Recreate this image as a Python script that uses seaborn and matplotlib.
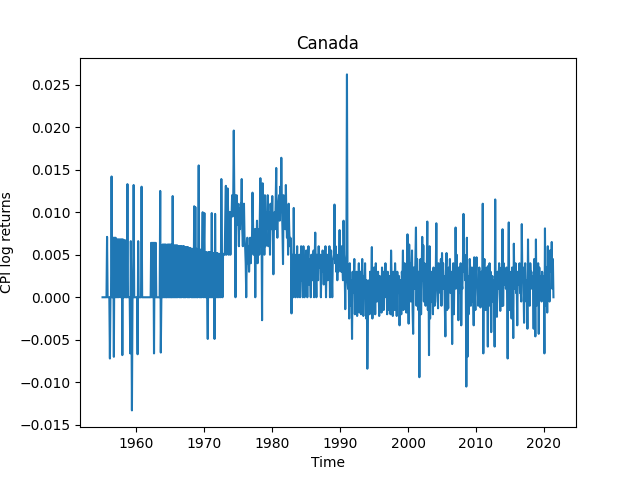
import numpy as np
import pandas as pd
import seaborn as sns
import matplotlib

matplotlib.use("Agg")
import matplotlib.pyplot as plt

# monthly CPI log returns, Canada, in units of 1e-4
# one row per year, Jan..Dec
ret_1950s = [
    0, 0, 0, 0, 0, 0, 0, 0, 71, 0, 0, 0,                      # 1955
    0, -72, 0, 0, 142, 0, 0, 70, -70, 70, 0, 70,              # 1956
    0, 68, 0, 68, 0, 68, 68, 0, 68, 0, 68, -68,               # 1957
    68, 0, 67, 0, 67, 0, 0, 0, 133, 0, 0, 0,                  # 1958
    0, -66, 66, 0, -133, 0, 0, 132, 0, 0, 0, 0,               # 1959
]
ret_1960s = [
    0, 0, -67, 66, 0, 0, 0, 0, 0, 130, 0, 0,                  # 1960
    0, 0, 0, 0, 0, 0, 0, 0, 0, 0, 0, 0,                       # 1961
    0, 0, 64, 0, 64, 0, 64, -66, 64, 0, 64, 0,                # 1962
    0, 0, 0, 0, 0, 0, 125, -65, 0, 0, 62, 0,                  # 1963
    62, 0, 62, 0, 62, 0, 0, 62, 0, 62, 0, 62,                 # 1964
    0, 62, 0, 0, 119, 0, 61, 0, 61, 0, 61, 0,                 # 1965
    61, 0, 60, 60, 0, 60, 0, 60, 0, 60, 60, 0,                # 1966
    60, 0, 59, 0, 59, 59, 0, 59, 0, 58, 0, 58,                # 1967
    57, 0, 57, 0, 57, 0, 107, 0, 106, 0, 57, 0,               # 1968
    0, 56, 155, 0, 56, 0, 56, 0, 56, 100, 0, 56,              # 1969
]
ret_1970s = [
    99, 0, 53, 0, 53, 0, -49, 53, 0, 53, 0, 53,               # 1970
    0, 99, 0, 52, 0, 52, -49, 98, 0, 52, 0, 52,               # 1971
    0, 51, 0, 51, 51, 0, 139, 51, 0, 51, 51, 50,              # 1972
    50, 100, 131, 50, 100, 128, 100, 50, 100, 100, 50, 100,   # 1973
    95, 120, 95, 115, 196, 110, 120, 0, 105, 120, 85, 110,    # 1974
    90, 60, 105, 80, 110, 100, 139, 80, 60, 90, 110, 70,      # 1975
    60, 40, 0, 50, 70, 40, 60, 30, 50, 70, 40, 60,            # 1976
    60, 123, 90, 50, 70, 80, 0, 80, 60, 90, 40, 70,           # 1977
    80, 50, 90, 140, 60, 90, -27, 134, 60, 90, 50, 120,       # 1978
    60, 100, 80, 90, 120, 60, 70, 100, 50, 110, 80, 90,       # 1979
]
ret_1980s = [
    119, 80, 27, 90, 100, 80, 110, 152, 90, 70, 100, 110,     # 1980
    120, 90, 130, 100, 164, 110, 80, 39, 120, 90, 100, 80,    # 1981
    132, 90, 70, 100, 50, 110, 80, 60, 70, 68, -19, 50,       # 1982
    40, 0, 105, 20, 50, 0, 40, 30, 60, 0, 45, 30,             # 1983
    50, 0, 30, 60, 20, 45, 0, 60, 35, 0, 40, 25,              # 1984
    55, 30, 0, 40, 60, 15, 45, 30, 0, 50, 35, 20,             # 1985
    40, 55, 0, 45, 76, 30, 0, 50, 40, 20, 60, 35,             # 1986
    45, 50, 0, 40, 30, 55, 45, 15, 40, 35, 60, 0,             # 1987
    40, 50, 20, 45, 35, 60, 0, 40, 55, 30, 0, 45,             # 1988
    45, 50, 109, 40, 60, 30, 50, 20, 45, 30, 55, 79,          # 1989
]
ret_1990s = [
    50, 40, 30, 60, 35, 20, 90, 45, 30, -14, 40, 50,          # 1990
    262, 20, 10, 30, -25, 40, 10, -10, 20, -49, 30, 5,        # 1991
    15, 45, -20, 20, 10, 30, -22, 25, 5, 40, -18, 15,         # 1992
    30, -20, 20, 45, 5, -22, 25, 10, 40, 0, -25, 20,          # 1993
    -84, -23, 10, 20, -20, 30, 5, 15, 59, -25, 10, 20,        # 1994
    35, 25, -20, 40, 15, -5, 20, 30, 10, -22, 25, 5,          # 1995
    20, -18, 35, 15, 30, -15, 25, 10, 40, 0, 20, -20,         # 1996
    30, 15, -15, 25, 10, -20, 55, 20, 5, -22, 30, 15,         # 1997
    -15, 40, 20, 10, -22, 30, 15, 5, 25, -33, 20, 10,         # 1998
    -20, 30, 15, 55, -15, 20, 40, 10, 30, -18, 20, 74,        # 1999
]
ret_2000s = [
    25, -31, 62, 10, 40, -5, 30, 55, -15, -43, 35, 20,        # 2000
    10, 50, 82, -10, 45, 20, -15, 30, -94, 20, 45, -20,       # 2001
    30, 71, 20, 61, -5, 40, 15, -10, 35, 25, 89, -15,         # 2002
    40, -68, 60, -25, 20, 30, -5, 15, -20, 35, 10, -10,       # 2003
    -5, 30, 87, 20, 10, -13, 40, 15, 30, 5, 45, -10,          # 2004
    52, 20, 40, 10, 25, -10, -46, 30, 52, -15, 10, -13,       # 2005
    35, 15, 45, 5, 30, 20, -55, 25, 40, -20, 30, 10,          # 2006
    82, 30, 50, 10, 25, -27, 35, 5, 20, 40, -33, 15,          # 2007
    10, 40, 98, 30, 50, 20, 35, -105, 70, -70, 25, -20,       # 2008
    15, 45, 30, -10, 20, 35, -5, 10, -33, 47, 5, -15,         # 2009
]
ret_2010s = [
    30, 47, 15, 20, -10, 5, 35, 10, -12, 25, 30, -5,          # 2010
    110, -66, 30, 45, 10, -15, 20, 35, 5, -58, 37, -10,       # 2011
    40, 20, 30, -41, 15, 25, -5, 10, 20, -58, 115, -10,       # 2012
    25, -23, 30, 10, 20, 40, 5, -16, 15, 35, -10, 80,         # 2013
    -10, 40, 25, 15, 30, 10, 35, 5, -72, 20, 88, -15,         # 2014
    30, 10, 20, -25, 35, 15, -48, 63, 10, 25, 40, 5,          # 2015
    20, -33, 30, 15, 25, 40, 5, 10, -5, 86, 20, 35,           # 2016
    15, -30, 25, 40, 10, -5, 20, -37, 68, 10, 30, -10,        # 2017
    40, 20, 30, 10, 25, 15, -37, 45, 20, -46, 68, -10,        # 2018
    30, 20, 40, -43, 35, 10, 25, 15, -5, 30, 10, 20,          # 2019
]
ret_2020s = [
    25, -66, 81, -10, 35, 20, -18, 60, 10, 30, -5, 55,        # 2020
    40, 30, 65, 10, 45, 0,                                    # 2021 (Jan..Jun)
]


def main():
    ret = np.array(ret_1950s + ret_1960s + ret_1970s + ret_1980s
                   + ret_1990s + ret_2000s + ret_2010s + ret_2020s) / 10000.0
    dates = pd.date_range("1955-01-01", periods=len(ret), freq="MS")
    df = pd.DataFrame({"Time": dates, "ret": ret})

    fig, ax = plt.subplots(figsize=(6.4, 4.8), dpi=100)
    sns.lineplot(data=df, x="Time", y="ret", ax=ax, color="#1f77b4", linewidth=1.5)
    ax.set_title("Canada")
    ax.set_xlabel("Time")
    ax.set_ylabel("CPI log returns")
    fig.savefig("out.png")


if __name__ == "__main__":
    main()
